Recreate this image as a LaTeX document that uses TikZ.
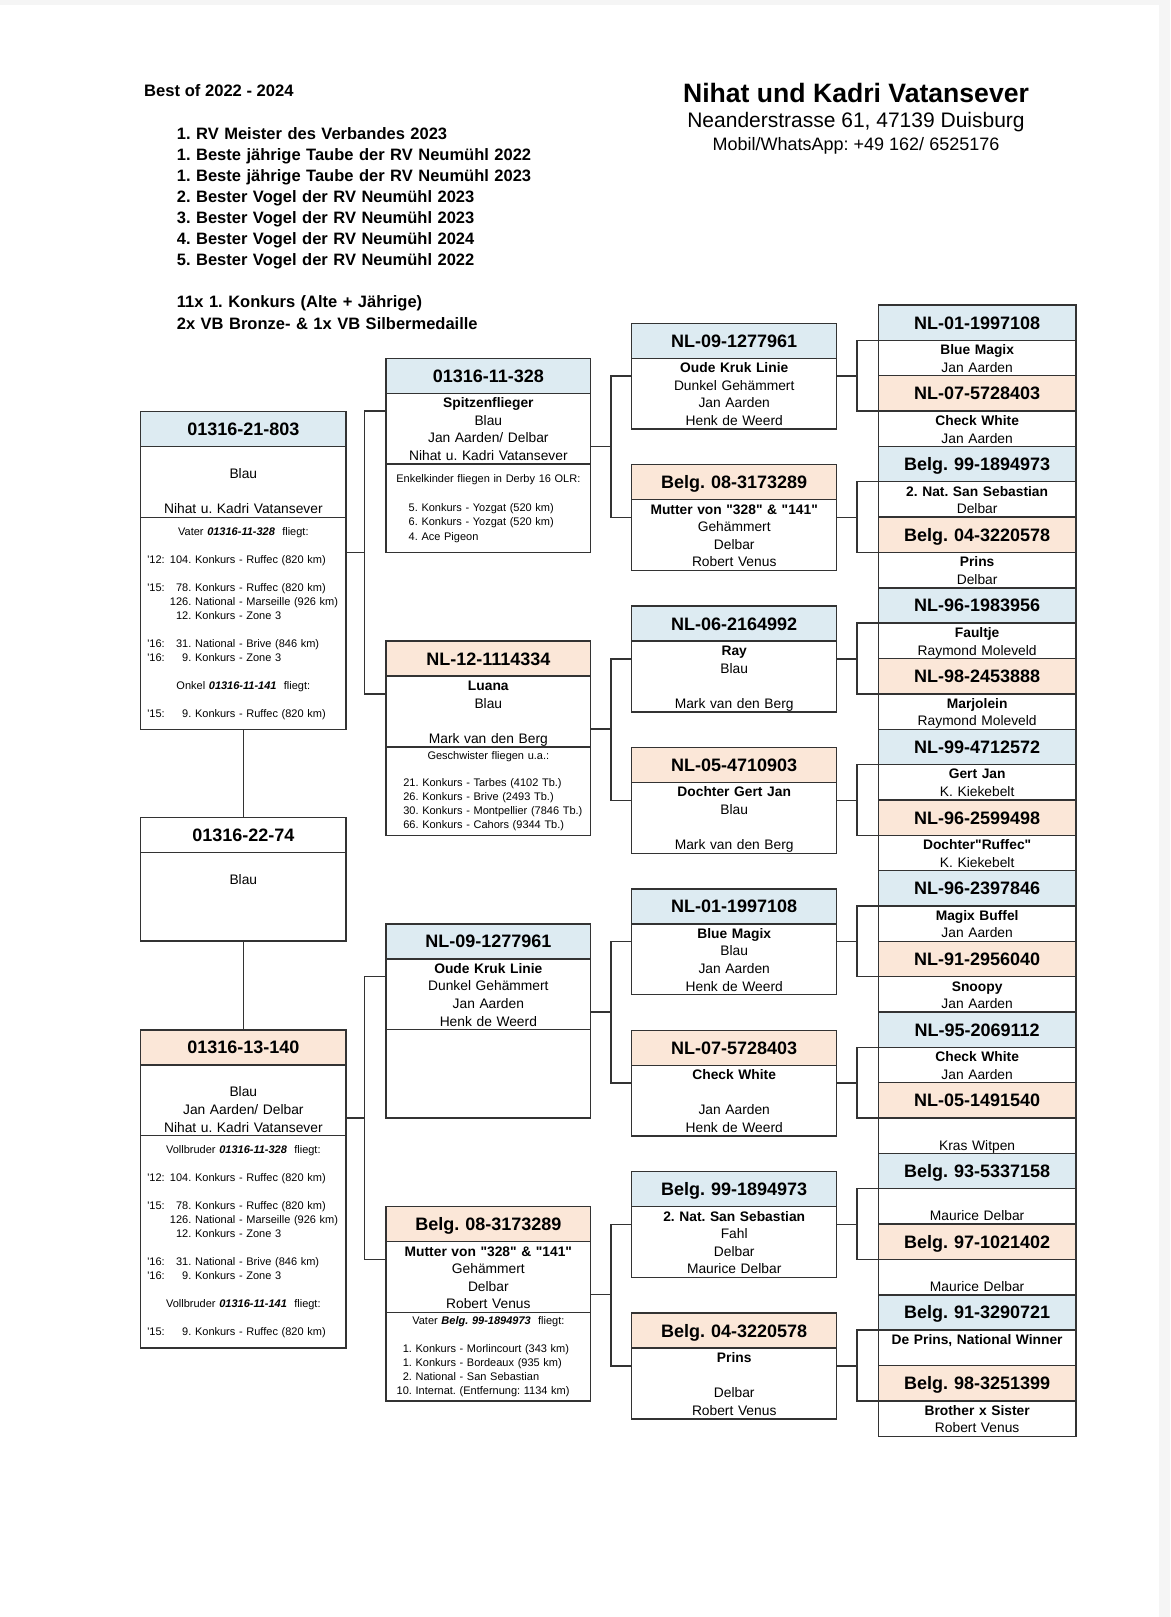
\documentclass[tikz,border=0pt]{standalone}
\usepackage{fontspec}
\setmainfont{Liberation Sans}
\usepackage{xcolor}
\usepackage{tikz}
\usetikzlibrary{positioning}
\frenchspacing
\definecolor{hblue}{RGB}{221,235,242}
\definecolor{htan}{RGB}{251,231,216}
\newcommand{\yr}[1]{\textquotesingle#1:}
\newcommand{\race}[3]{\makebox[\linewidth][l]{\hspace*{6.6pt}\makebox[22.7pt][l]{#1}\makebox[21.4pt][r]{#2}\ #3}}
\newcommand{\ent}[2]{\makebox[\linewidth][l]{\hspace*{#1}#2}}
\newcommand{\tst}{\rule{0pt}{14.3pt}}
\newcommand{\bst}{\rule[-3.3pt]{0pt}{0pt}}
\newcommand{\qq}{\textquotedbl}

\begin{document}
\begin{tikzpicture}[x=1pt, y=-1pt,
  box/.style  ={draw=black!80, line width=1.4pt, inner sep=0pt, outer sep=0pt, align=center},
  idbox/.style={box, anchor=north west, minimum height=35pt, text height=12.9pt,
                text depth=0pt, font=\bfseries\fontsize{18}{20}\selectfont},
  body/.style ={box, font=\fontsize{13.8}{17.6}\selectfont},
  note/.style ={box, font=\fontsize{11}{#1}\selectfont},
  col0/.style ={text width=205.3pt},
  col1/.style ={text width=204.7pt},
  col2/.style ={text width=205pt},
  col3/.style ={text width=197.7pt},
  link/.style ={draw=black!80, line width=1.4pt}
]
\useasboundingbox (0,0) rectangle (1170,1617);
\fill[black!4] (0,0) rectangle (1170,1617);
\fill[white] (0,5) rectangle (1159,1617);

% title block
\node[anchor=base west, inner sep=0pt, font=\bfseries\fontsize{16.6}{20}\selectfont] (best) at (144,96.7) {Best of 2022 - 2024};
\node[anchor=north west, inner sep=0pt, text width=420pt, align=left,
      font=\bfseries\fontsize{16.5}{21.1}\selectfont] (merits) at (176.7,124.2)
  {\strut 1. RV Meister des Verbandes 2023\\1. Beste jährige Taube der RV Neumühl 2022\\
   1. Beste jährige Taube der RV Neumühl 2023\\2. Bester Vogel der RV Neumühl 2023\\
   3. Bester Vogel der RV Neumühl 2023\\4. Bester Vogel der RV Neumühl 2024\\
   5. Bester Vogel der RV Neumühl 2022\\~\\11x 1. Konkurs (Alte + Jährige)\\
   2x VB Bronze- \& 1x VB Silbermedaille};
\node[anchor=base, font=\bfseries\fontsize{26.6}{30}\selectfont] (owner) at (856,102.8) {Nihat und Kadri Vatansever};
\node[anchor=base, font=\fontsize{21}{24}\selectfont] (addr) at (856,127.3) {Neanderstrasse 61, 47139 Duisburg};
\node[anchor=base, font=\fontsize{18}{20}\selectfont] (phone) at (856,150.7) {Mobil/WhatsApp: +49 162/ 6525176};

% generation 0
\node[idbox, col0, fill=hblue] (sire) at (140.7,411.7) {01316-21-803};
\node[body, col0, minimum height=70.5pt, below=0pt of sire] (sire-b) {\tst~\\Blau\\~\\Nihat u. Kadri Vatansever\bst};
\node[note=14, col0, minimum height=212.3pt, below=0pt of sire-b] (sire-x)
  {\strut Vater \textbf{\textit{01316-11-328}}~ fliegt:\\~\\
   \race{\yr{12}}{104.}{Konkurs - Ruffec (820 km)}\\~\\
   \race{\yr{15}}{78.}{Konkurs - Ruffec (820 km)}\\
   \race{}{126.}{National - Marseille (926 km)}\\
   \race{}{12.}{Konkurs - Zone 3}\\~\\
   \race{\yr{16}}{31.}{National - Brive (846 km)}\\
   \race{\yr{16}}{9.}{Konkurs - Zone 3}\\~\\
   Onkel \textbf{\textit{01316-11-141}}~ fliegt:\\~\\
   \race{\yr{15}}{9.}{Konkurs - Ruffec (820 km)}\strut};

\node[idbox, col0, fill=white] (kid) at (140.7,817.7) {01316-22-74};
\node[body, col0, minimum height=88.3pt, below=0pt of kid] (kid-b) {\tst~\\Blau\\~\\~\\~\bst};

\node[idbox, col0, fill=htan] (dam) at (140.7,1030) {01316-13-140};
\node[body, col0, minimum height=70.5pt, below=0pt of dam] (dam-b) {\tst~\\Blau\\Jan Aarden/ Delbar\\Nihat u. Kadri Vatansever\bst};
\node[note=14, col0, minimum height=212.3pt, below=0pt of dam-b] (dam-x)
  {\strut Vollbruder \textbf{\textit{01316-11-328}}~ fliegt:\\~\\
   \race{\yr{12}}{104.}{Konkurs - Ruffec (820 km)}\\~\\
   \race{\yr{15}}{78.}{Konkurs - Ruffec (820 km)}\\
   \race{}{126.}{National - Marseille (926 km)}\\
   \race{}{12.}{Konkurs - Zone 3}\\~\\
   \race{\yr{16}}{31.}{National - Brive (846 km)}\\
   \race{\yr{16}}{9.}{Konkurs - Zone 3}\\~\\
   Vollbruder \textbf{\textit{01316-11-141}}~ fliegt:\\~\\
   \race{\yr{15}}{9.}{Konkurs - Ruffec (820 km)}\strut};

% generation 1
\node[idbox, col1, fill=hblue] (p0) at (386,358.3) {01316-11-328};
\node[body, col1, minimum height=70.7pt, below=0pt of p0] (p0-b) {\tst\textbf{Spitzenflieger}\\Blau\\Jan Aarden/ Delbar\\Nihat u. Kadri Vatansever\bst};
\node[note=14.5, col1, minimum height=88.5pt, below=0pt of p0-b] (p0-x)
  {\strut Enkelkinder fliegen in Derby 16 OLR:\\~\\
   \ent{22.7pt}{5. Konkurs - Yozgat (520 km)}\\
   \ent{22.7pt}{6. Konkurs - Yozgat (520 km)}\\
   \ent{22.7pt}{4. Ace Pigeon}\strut};

\node[idbox, col1, fill=htan] (p1) at (386,641.1) {NL-12-1114334};
\node[body, col1, minimum height=70.7pt, below=0pt of p1] (p1-b) {\tst\textbf{Luana}\\Blau\\~\\Mark van den Berg\bst};
\node[note=13.8, col1, minimum height=88.5pt, below=0pt of p1-b] (p1-x)
  {\strut Geschwister fliegen u.a.:\\~\\
   \ent{17.3pt}{21. Konkurs - Tarbes (4102 Tb.)}\\
   \ent{17.3pt}{26. Konkurs - Brive (2493 Tb.)}\\
   \ent{17.3pt}{30. Konkurs - Montpellier (7846 Tb.)}\\
   \ent{17.3pt}{66. Konkurs - Cahors (9344 Tb.)}\strut};

\node[idbox, col1, fill=hblue] (p2) at (386,923.9) {NL-09-1277961};
\node[body, col1, minimum height=70.7pt, below=0pt of p2] (p2-b) {\tst\textbf{Oude Kruk Linie}\\Dunkel Gehämmert\\Jan Aarden\\Henk de Weerd\bst};
\node[note=14, col1, minimum height=88.5pt, below=0pt of p2-b] (p2-x) {};

\node[idbox, col1, fill=htan] (p3) at (386,1206.7) {Belg. 08-3173289};
\node[body, col1, minimum height=70.7pt, below=0pt of p3] (p3-b) {\tst\textbf{Mutter von \qq328\qq{} \& \qq141\qq}\\Gehämmert\\Delbar\\Robert Venus\bst};
\node[note=13.9, col1, minimum height=88.5pt, below=0pt of p3-b] (p3-x)
  {\strut Vater \textbf{\textit{Belg. 99-1894973}}~ fliegt:\\~\\
   \ent{10.7pt}{\phantom{1}1. Konkurs - Morlincourt (343 km)}\\
   \ent{10.7pt}{\phantom{1}1. Konkurs - Bordeaux (935 km)}\\
   \ent{10.7pt}{\phantom{1}2. National - San Sebastian}\\
   \ent{10.7pt}{10. Internat. (Entfernung: 1134 km)}\strut};

% generation 2
\foreach \id/\nm/\ta/\tb/\tc [count=\k from 0] in {
  NL-09-1277961/Oude Kruk Linie/Dunkel Gehämmert/Jan Aarden/Henk de Weerd,
  Belg. 08-3173289/Mutter von \qq328\qq{} \& \qq141\qq/Gehämmert/Delbar/Robert Venus,
  NL-06-2164992/Ray/Blau/~/Mark van den Berg,
  NL-05-4710903/Dochter Gert Jan/Blau/~/Mark van den Berg,
  NL-01-1997108/Blue Magix/Blau/Jan Aarden/Henk de Weerd,
  NL-07-5728403/Check White/~/Jan Aarden/Henk de Weerd,
  Belg. 99-1894973/2. Nat. San Sebastian/Fahl/Delbar/Maurice Delbar,
  Belg. 04-3220578/Prins/~/Delbar/Robert Venus}{
  \ifodd\k \def\fc{htan}\else \def\fc{hblue}\fi
  \node[idbox, col2, fill=\fc] (q\k) at (631.7,323.3+141.4*\k) {\id};
  \node[body, col2, minimum height=70.7pt, below=0pt of q\k] (q\k-b) {\tst\textbf{\nm}\\\ta\\\tb\\\tc\bst};
}

% generation 3
\foreach \id/\nm/\br [count=\k from 0] in {
  NL-01-1997108/Blue Magix/Jan Aarden,
  NL-07-5728403/Check White/Jan Aarden,
  Belg. 99-1894973/2. Nat. San Sebastian/Delbar,
  Belg. 04-3220578/Prins/Delbar,
  NL-96-1983956/Faultje/Raymond Moleveld,
  NL-98-2453888/Marjolein/Raymond Moleveld,
  NL-99-4712572/Gert Jan/K. Kiekebelt,
  NL-96-2599498/Dochter\qq Ruffec\qq/K. Kiekebelt,
  NL-96-2397846/Magix Buffel/Jan Aarden,
  NL-91-2956040/Snoopy/Jan Aarden,
  NL-95-2069112/Check White/Jan Aarden,
  NL-05-1491540/~/Kras Witpen,
  Belg. 93-5337158/~/Maurice Delbar,
  Belg. 97-1021402/~/Maurice Delbar,
  Belg. 91-3290721/{De Prins, National Winner}/~,
  Belg. 98-3251399/Brother x Sister/Robert Venus}{
  \ifodd\k \def\fc{htan}\else \def\fc{hblue}\fi
  \node[idbox, col3, fill=\fc, minimum height=35.35pt] (g\k) at (878.3,305+70.7*\k) {\id};
  \node[body, col3, minimum height=35.35pt, below=0pt of g\k] (g\k-b) {\tst\textbf{\nm}\\\br\bst};
}

% connectors
\draw[link] (sire-x.south) -- (kid.north);
\draw[link] (kid-b.south) -- (dam.north);
\draw[link] ([yshift=-35pt]sire-x.north east) -| ([xshift=-21.7pt,yshift=-17.7pt]p0-b.north west) -- ([yshift=-17.7pt]p0-b.north west);
\draw[link] ([yshift=-35pt]sire-x.north east) -| ([xshift=-21.7pt,yshift=-17.7pt]p1-b.north west) -- ([yshift=-17.7pt]p1-b.north west);
\draw[link] ([yshift=17.4pt]dam-b.south east) -| ([xshift=-21.7pt,yshift=-17.7pt]p2-b.north west) -- ([yshift=-17.7pt]p2-b.north west);
\draw[link] ([yshift=17.4pt]dam-b.south east) -| ([xshift=-21.7pt,yshift=-17.7pt]p3-b.north west) -- ([yshift=-17.7pt]p3-b.north west);
\foreach \k in {0,...,3}{
  \pgfmathtruncatemacro\a{2*\k}
  \pgfmathtruncatemacro\b{2*\k+1}
  \draw[link] ([yshift=17.7pt]p\k-b.south east) -| ([xshift=-20.7pt,yshift=-17.7pt]q\a-b.north west) -- ([yshift=-17.7pt]q\a-b.north west);
  \draw[link] ([yshift=17.7pt]p\k-b.south east) -| ([xshift=-20.7pt,yshift=-17.7pt]q\b-b.north west) -- ([yshift=-17.7pt]q\b-b.north west);
}
\foreach \k in {0,...,7}{
  \pgfmathtruncatemacro\a{2*\k}
  \pgfmathtruncatemacro\b{2*\k+1}
  \draw[link] ([yshift=-17.7pt]q\k-b.north east) -| ([xshift=-21.3pt]g\a.south west) -- (g\a.south west);
  \draw[link] ([yshift=-17.7pt]q\k-b.north east) -| ([xshift=-21.3pt]g\b.south west) -- (g\b.south west);
}
\end{tikzpicture}
\end{document}
